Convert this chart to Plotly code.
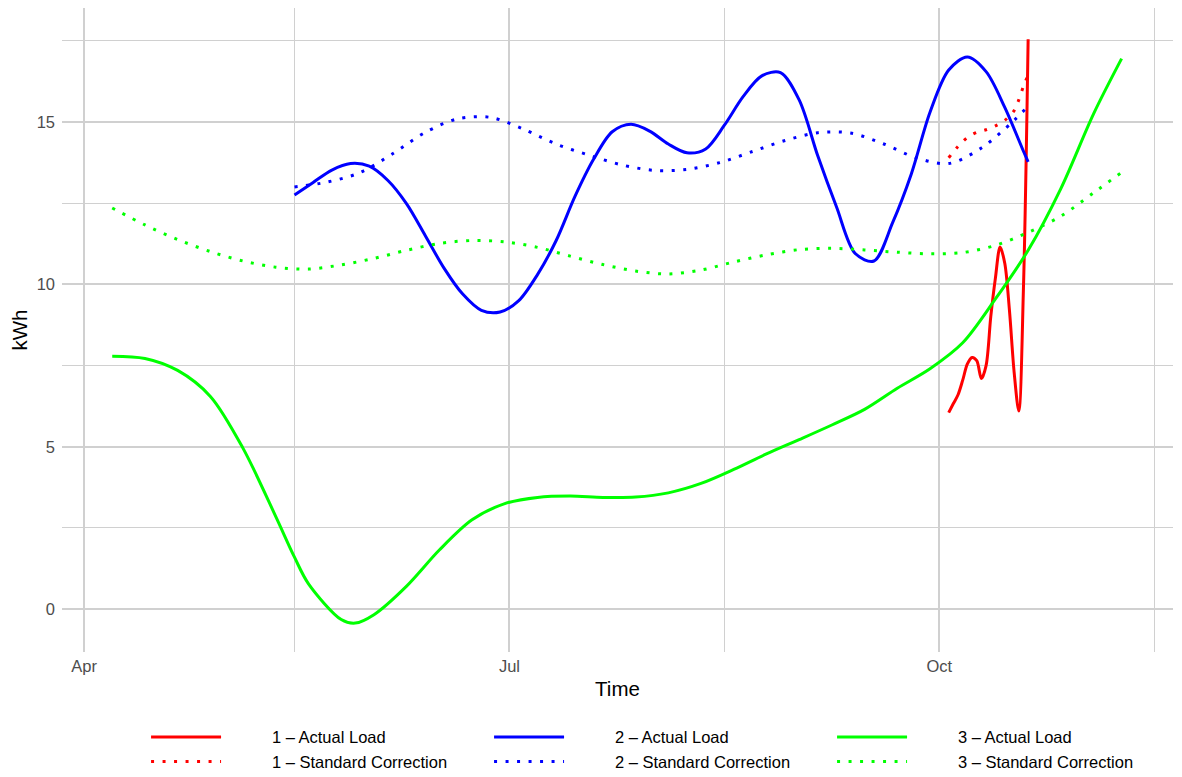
import plotly.graph_objects as go

# series 3 (weekly, with a couple of extra points around the dip)
green_dates = ['2023-04-07', '2023-04-14', '2023-04-21', '2023-04-28', '2023-05-05',
               '2023-05-12', '2023-05-16', '2023-05-19', '2023-05-26', '2023-05-29',
               '2023-06-02', '2023-06-09', '2023-06-16', '2023-06-23', '2023-06-30',
               '2023-07-07', '2023-07-14', '2023-07-21', '2023-07-28', '2023-08-04',
               '2023-08-11', '2023-08-18', '2023-08-25', '2023-09-01', '2023-09-08',
               '2023-09-15', '2023-09-22', '2023-09-29', '2023-10-06', '2023-10-13',
               '2023-10-20', '2023-10-27', '2023-11-03', '2023-11-09']
green_actual = [7.79, 7.72, 7.35, 6.55, 4.95, 2.85, 1.6, 0.78, -0.32, -0.43,
                -0.17, 0.71, 1.82, 2.75, 3.25, 3.44, 3.48, 3.44, 3.45, 3.58,
                3.87, 4.3, 4.78, 5.22, 5.67, 6.15, 6.8, 7.4, 8.2, 9.55,
                11.05, 12.95, 15.25, 16.95]

green_std_dates = ['2023-04-07', '2023-04-14', '2023-04-21', '2023-04-28', '2023-05-05',
                   '2023-05-12', '2023-05-19', '2023-05-26', '2023-06-02', '2023-06-09',
                   '2023-06-16', '2023-06-23', '2023-06-30', '2023-07-07', '2023-07-14',
                   '2023-07-21', '2023-07-28', '2023-08-04', '2023-08-11', '2023-08-18',
                   '2023-08-25', '2023-09-01', '2023-09-08', '2023-09-15', '2023-09-22',
                   '2023-09-29', '2023-10-06', '2023-10-13', '2023-10-20', '2023-10-27',
                   '2023-11-03', '2023-11-09']
green_std = [12.35, 11.83, 11.38, 11.01, 10.72, 10.53, 10.47, 10.6, 10.8, 11.05,
             11.26, 11.35, 11.31, 11.14, 10.87, 10.61, 10.41, 10.32, 10.44, 10.69,
             10.91, 11.07, 11.11, 11.06, 10.99, 10.94, 10.98, 11.2, 11.6, 12.1,
             12.82, 13.45]

# series 2
blue_dates = ['2023-05-16', '2023-05-20', '2023-05-24', '2023-05-28', '2023-06-01',
              '2023-06-05', '2023-06-09', '2023-06-13', '2023-06-17', '2023-06-21',
              '2023-06-25', '2023-06-29', '2023-07-03', '2023-07-07', '2023-07-11',
              '2023-07-15', '2023-07-19', '2023-07-23', '2023-07-27', '2023-07-31',
              '2023-08-04', '2023-08-08', '2023-08-12', '2023-08-16', '2023-08-20',
              '2023-08-24', '2023-08-28', '2023-09-01', '2023-09-05', '2023-09-09',
              '2023-09-13', '2023-09-17', '2023-09-21', '2023-09-25', '2023-09-29',
              '2023-10-03', '2023-10-07', '2023-10-11', '2023-10-15', '2023-10-19',
              '2023-10-20']
blue_actual = [12.75, 13.14, 13.52, 13.72, 13.64, 13.2, 12.48, 11.5, 10.5, 9.7,
               9.2, 9.15, 9.5, 10.3, 11.35, 12.7, 13.85, 14.7, 14.93, 14.72,
               14.32, 14.05, 14.17, 14.9, 15.78, 16.42, 16.52, 15.68, 13.95, 12.38,
               10.95, 10.72, 11.9, 13.4, 15.3, 16.6, 17.0, 16.55, 15.45, 14.1,
               13.77]

blue_std_dates = ['2023-05-16', '2023-05-23', '2023-05-30', '2023-06-06', '2023-06-13',
                  '2023-06-20', '2023-06-27', '2023-07-04', '2023-07-11', '2023-07-18',
                  '2023-07-25', '2023-08-01', '2023-08-08', '2023-08-15', '2023-08-22',
                  '2023-08-29', '2023-09-05', '2023-09-12', '2023-09-19', '2023-09-26',
                  '2023-10-03', '2023-10-10', '2023-10-17', '2023-10-20']
blue_std = [13.0, 13.15, 13.44, 14.02, 14.68, 15.1, 15.14, 14.78, 14.32, 13.98,
            13.68, 13.51, 13.54, 13.75, 14.09, 14.43, 14.67, 14.66, 14.33, 13.9,
            13.72, 14.2, 15.05, 15.49]

# series 1 (daily)
red_dates = ['2023-10-03', '2023-10-04', '2023-10-05', '2023-10-06', '2023-10-07',
             '2023-10-08', '2023-10-09', '2023-10-10', '2023-10-11', '2023-10-12',
             '2023-10-13', '2023-10-14', '2023-10-15', '2023-10-16', '2023-10-17',
             '2023-10-18', '2023-10-19', '2023-10-20']
red_actual = [6.05, 6.33, 6.6, 7.05, 7.55, 7.75, 7.65, 7.1, 7.5, 9.0,
              10.2, 11.15, 10.65, 9.2, 7.3, 6.1, 9.9, 17.55]

red_std_dates = ['2023-10-03', '2023-10-05', '2023-10-07', '2023-10-09', '2023-10-11',
                 '2023-10-13', '2023-10-15', '2023-10-17', '2023-10-18', '2023-10-19',
                 '2023-10-20']
red_std = [13.9, 14.25, 14.52, 14.68, 14.76, 14.88, 15.05, 15.35, 15.68, 16.1, 16.45]

x_ticks = ['2023-04-01', '2023-07-01', '2023-10-01']
x_tick_labels = ['Apr', 'Jul', 'Oct']
x_minor = ['2023-05-16', '2023-08-16', '2023-11-16']

DOT = '3px,8.5px'
PAD = '\u00a0' * 10  # gap between legend key and label, like ggplot's
series = [
    ('1 – Actual Load', red_dates, red_actual, '#ff0000', 'solid', 1),
    ('2 – Actual Load', blue_dates, blue_actual, '#0000ff', 'solid', 2),
    ('3 – Actual Load', green_dates, green_actual, '#00ff00', 'solid', 3),
    ('1 – Standard Correction', red_std_dates, red_std, '#ff0000', DOT, 4),
    ('2 – Standard Correction', blue_std_dates, blue_std, '#0000ff', DOT, 5),
    ('3 – Standard Correction', green_std_dates, green_std, '#00ff00', DOT, 6),
]

fig = go.Figure()
for name, xs, ys, col, dash, rank in series:
    fig.add_trace(go.Scatter(x=xs, y=ys, name=PAD + name, mode='lines', legendrank=rank,
                             line=dict(color=col, width=3, dash=dash,
                                       shape='spline', smoothing=0.9)))

grid = '#d0d0d0'
# page has an 8px body margin, so the figure is 8px smaller than the window
fig.update_layout(
    width=1174, height=769,
    margin=dict(l=54, r=9, t=0, b=125, autoexpand=False),
    plot_bgcolor='white', paper_bgcolor='white',
    font=dict(family='Liberation Sans, Arial, sans-serif', size=16.5, color='#4d4d4d'),
    xaxis=dict(range=['2023-03-27 06:00', '2023-11-20'], tickvals=x_ticks,
               ticktext=x_tick_labels, showgrid=True, gridcolor=grid, gridwidth=1.8,
               zeroline=False, showline=False, ticks='', ticklabelstandoff=2,
               automargin=False,
               minor=dict(tickvals=x_minor, showgrid=True, gridcolor=grid, gridwidth=1.3),
               title=dict(text='Time', font=dict(size=20.5, color='black'), standoff=8)),
    yaxis=dict(range=[-1.32, 18.51], tickvals=[0, 5, 10, 15], showgrid=True,
               gridcolor=grid, gridwidth=1.8, zeroline=False, showline=False, ticks='',
               ticklabelstandoff=6, automargin=False,
               minor=dict(tickvals=[2.5, 7.5, 12.5, 17.5], showgrid=True,
                          gridcolor=grid, gridwidth=1.3),
               title=dict(text='kWh', font=dict(size=20.5, color='black'), standoff=10)),
    legend=dict(orientation='h', xref='container', yref='container',
                x=0.1176, y=0.0745, xanchor='left', yanchor='top',
                entrywidth=258, entrywidthmode='pixels', itemwidth=70,
                font=dict(size=16.5, color='black'), traceorder='normal'),
)

fig.write_html('out.html')
